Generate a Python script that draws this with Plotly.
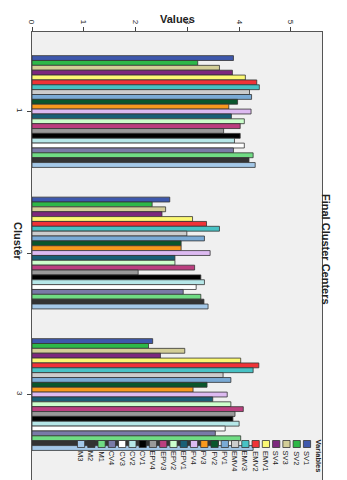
import plotly.graph_objects as go

clusters = [1, 2, 3]

variables = ["SV1", "SV2", "SV3", "SV4", "EMV1", "EMV2", "EMV3", "EMV4",
             "FV1", "FV2", "FV3", "FV4", "EPV1", "EPV2", "EPV3", "EPV4",
             "CV1", "CV2", "CV3", "CV4", "M1", "M2", "M3"]

cluster1 = [3.89, 3.20, 3.62, 3.87, 4.12, 4.34, 4.39, 4.20, 4.24, 3.97, 3.80, 4.23,
            3.85, 4.10, 4.02, 3.70, 4.02, 3.91, 4.10, 3.89, 4.27, 4.19, 4.31]
cluster2 = [2.66, 2.32, 2.58, 2.51, 3.10, 3.37, 3.62, 2.99, 3.33, 2.88, 2.88, 3.44,
            2.76, 2.76, 3.14, 2.05, 3.26, 3.33, 3.17, 2.92, 3.26, 3.32, 3.40]
cluster3 = [2.33, 2.25, 2.95, 2.48, 4.03, 4.38, 4.27, 3.69, 3.84, 3.38, 3.11, 3.77,
            3.49, 3.84, 4.08, 3.92, 3.88, 4.00, 3.73, 3.54, 4.03, 3.60, 4.27]

colors = ["#3e58ac", "#2eb848", "#d3ce97", "#7c287d", "#fbf873", "#ef3338",
          "#48c2c5", "#cccccc", "#7aaad5", "#0a562c", "#f8981d", "#ddbaf1",
          "#1a5f76", "#ccffcc", "#bb3f7f", "#999999", "#000000", "#b6e7e8",
          "#ffffff", "#797aa7", "#70dc84", "#333333", "#a4c8e8"]

# page body has an 8px margin, so the figure is shrunk by that much
OFF = 8
W, H = 347 - OFF, 480 - OFF
# plot area in screen pixels
L, R, T, B = 32, 322, 32, 480


def px(x):
    return (x - L) / (R - L)


def py(y):
    return (B - y) / (B - T)


fig = go.Figure()

for i, name in enumerate(variables):
    vals = [cluster1[i], cluster2[i], cluster3[i]]
    fig.add_trace(go.Bar(
        y=clusters, x=vals, orientation="h", name=name,
        marker=dict(color=colors[i], line=dict(color="#333333", width=0.8)),
    ))

# legend drawn by hand (rotated like the rest of the chart)
for i, name in enumerate(variables):
    cx = 307 - 10.27 * i
    fig.add_shape(type="rect", xref="paper", yref="paper",
                  x0=px(cx - 3.6), x1=px(cx + 3.6), y0=py(447.5), y1=py(440.5),
                  fillcolor=colors[i], line=dict(color="#333333", width=0.8))
    fig.add_annotation(xref="paper", yref="paper", x=px(cx), y=py(449),
                       text=name, textangle=90, showarrow=False,
                       xanchor="center", yanchor="top",
                       font=dict(size=7.5, color="#222222"))

fig.add_annotation(xref="paper", yref="paper", x=px(318), y=py(437),
                   text="<b>Variables</b>", textangle=90, showarrow=False,
                   xanchor="center", yanchor="top",
                   font=dict(size=7.5, color="#222222"))

fig.add_annotation(xref="paper", yref="paper", x=px(177), y=py(11),
                   text="<b>Values</b>", showarrow=False,
                   font=dict(size=11, color="#222222"))
fig.add_annotation(xref="paper", yref="paper", x=px(10), y=py(241),
                   text="<b>Cluster</b>", textangle=90, showarrow=False,
                   font=dict(size=11, color="#222222"))
fig.add_annotation(xref="paper", yref="paper", x=px(334), y=py(249),
                   text="<b>Final Cluster Centers</b>", textangle=90, showarrow=False,
                   font=dict(size=11, color="#222222"))

fig.update_layout(
    width=W, height=H, autosize=False,
    margin=dict(l=L - OFF, r=W - (R - OFF), t=T - OFF, b=H - (B - OFF), pad=0),
    paper_bgcolor="white", plot_bgcolor="#f0f0f0",
    barmode="group", bargap=0.21, bargroupgap=0,
    showlegend=False,
    font=dict(family="Liberation Sans, Arial, sans-serif", color="#222222"),
    xaxis=dict(side="top", range=[0, 5.6], tickvals=[0, 1, 2, 3, 4, 5],
               tickangle=90, ticks="outside", ticklen=4, tickcolor="#444444",
               showgrid=False, zeroline=False, showline=True, mirror=True,
               linecolor="#555555", linewidth=1, tickfont=dict(size=8)),
    yaxis=dict(range=[3.604, 0.438], tickvals=clusters,
               ticktext=[str(c) for c in clusters],
               tickangle=90, ticks="outside", ticklen=4, tickcolor="#444444",
               showgrid=False, zeroline=False, showline=True, mirror=True,
               linecolor="#555555", linewidth=1, tickfont=dict(size=8)),
)

fig.write_html("out.html")
